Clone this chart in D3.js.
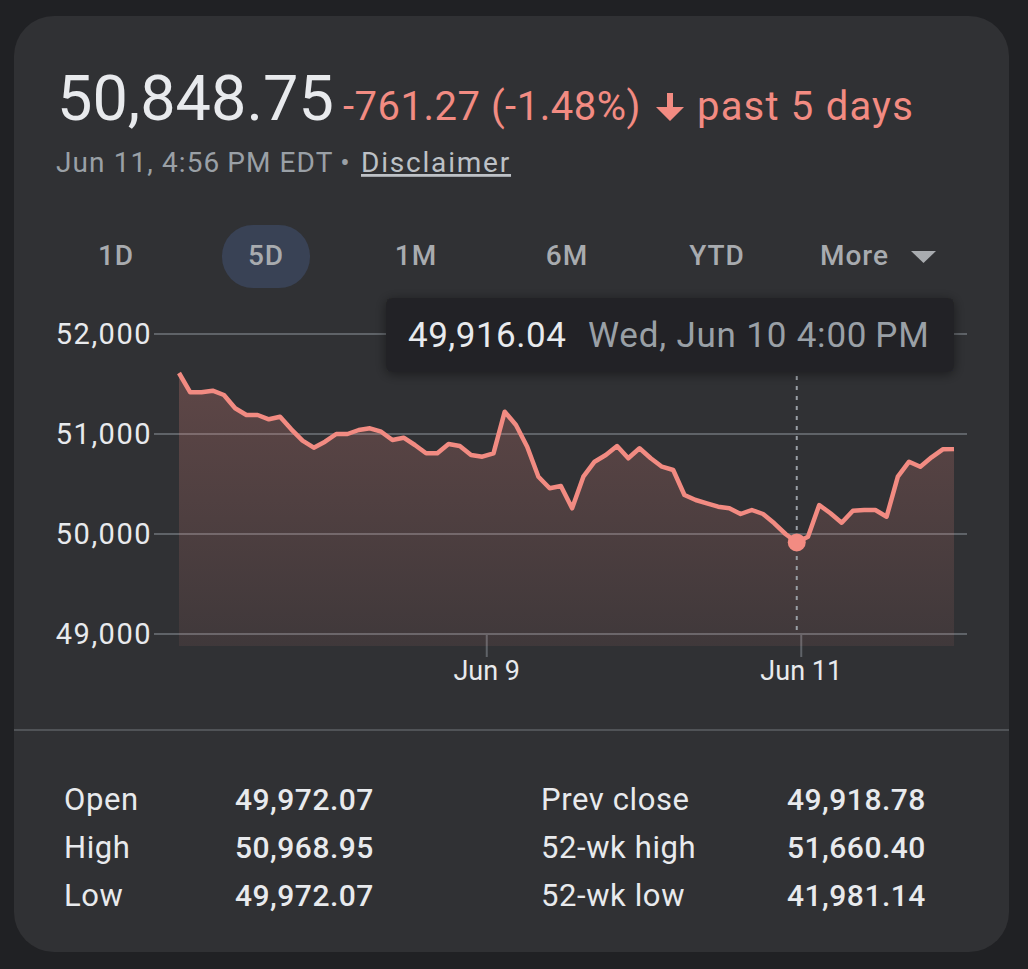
<!DOCTYPE html>
<html>
<head>
<meta charset="utf-8">
<script src="https://cdn.jsdelivr.net/npm/d3@7"></script>
<style>
  html, body { margin: 0; padding: 0; background: #202124; }
  svg { display: block; font-family: Roboto, "Noto Sans", sans-serif; }
</style>
</head>
<body>
<div id="chart"></div>
<script>
(function () {
  // 5 trading days, 14 half-hour points each (index 0..69)
  const prices = [
    51610, 51417, 51417, 51433, 51390, 51257, 51190, 51190, 51147, 51173, 51047, 50933, 50863, 50923,
    51000, 51000, 51040, 51057, 51023, 50940, 50963, 50890, 50807, 50807, 50900, 50880, 50790, 50773,
    50807, 51223, 51090, 50873, 50573, 50457, 50480, 50257, 50573, 50723, 50790, 50880, 50757, 50857,
    50757, 50673, 50640, 50390, 50340, 50307, 50273, 50257, 50200, 50240, 50200, 50107, 50000, 49916.04,
    49972.07, 50290, 50207, 50113, 50233, 50240, 50240, 50173, 50573, 50723, 50673, 50767, 50847, 50848.75
  ];
  const yTicks = [49000, 50000, 51000, 52000];
  const xTickPos = [27.4, 55.4];
  const xTickLabels = ["Jun 9", "Jun 11"];
  const hoverIndex = 55;
  const hoverLabel = "Wed, Jun 10 4:00\u2009PM";
  const ranges = ["1D", "5D", "1M", "6M", "YTD"];
  const statLabels = [["Open", "High", "Low"], ["Prev close", "52-wk high", "52-wk low"]];
  const statValues = [["49,972.07", "50,968.95", "49,972.07"], ["49,918.78", "51,660.40", "41,981.14"]];

  const width = 1028;
  const height = 969;
  const red = "#f28b82";

  const svg = d3.select("#chart")
    .append("svg")
    .attr("width", width)
    .attr("height", height);

  const defs = svg.append("defs");

  // card
  svg.append("rect")
    .attr("x", 14).attr("y", 16)
    .attr("width", 995).attr("height", 936)
    .attr("rx", 40)
    .attr("fill", "#303134");

  // header
  svg.append("text")
    .attr("x", 57).attr("y", 120)
    .text("50,848.75")
    .style("font-size", "63px")
    .style("fill", "#e8eaed");

  svg.append("text")
    .attr("x", 343).attr("y", 120)
    .text("-761.27 (-1.48%)")
    .style("font-size", "40px")
    .style("letter-spacing", "0.5px")
    .style("fill", red);

  svg.append("path")
    .attr("d", "M667,93 h6 v14 h11 l-14,14 l-14,-14 h11 z")
    .attr("fill", red);

  svg.append("text")
    .attr("x", 697).attr("y", 120)
    .text("past 5 days")
    .style("font-size", "40px")
    .style("letter-spacing", "1.2px")
    .style("fill", red);

  svg.append("text")
    .attr("x", 56).attr("y", 172)
    .text("Jun 11, 4:56\u2009PM EDT")
    .style("font-size", "28px")
    .style("letter-spacing", "1.1px")
    .style("fill", "#9aa0a6");
  svg.append("text")
    .attr("x", 345).attr("y", 172)
    .attr("text-anchor", "middle")
    .text("\u2022")
    .style("font-size", "28px")
    .style("fill", "#9aa0a6");
  svg.append("text")
    .attr("x", 361).attr("y", 172)
    .text("Disclaimer")
    .style("font-size", "28px")
    .style("letter-spacing", "1.8px")
    .style("fill", "#bdc1c6")
    .style("text-decoration", "underline");

  // range tabs
  const tabX = [116, 266, 416, 567, 717];
  svg.append("rect")
    .attr("x", 222).attr("y", 225)
    .attr("width", 88).attr("height", 63)
    .attr("rx", 31)
    .attr("fill", "#394255");

  svg.selectAll("text.tab")
    .data(ranges)
    .enter()
    .append("text")
    .attr("class", "tab")
    .attr("x", (d, i) => tabX[i])
    .attr("y", 265)
    .attr("text-anchor", "middle")
    .text(d => d)
    .style("font-size", "28px")
    .style("font-weight", 500)
    .style("letter-spacing", "1px")
    .style("fill", "#a8abaf");

  svg.append("text")
    .attr("x", 820).attr("y", 265)
    .text("More")
    .style("font-size", "28px")
    .style("font-weight", 500)
    .style("letter-spacing", "1px")
    .style("fill", "#a8abaf");
  svg.append("path")
    .attr("d", "M911,251 h25 l-12.5,12 z")
    .attr("fill", "#a8abaf");

  // scales
  const x = d3.scaleLinear().domain([0, prices.length - 1]).range([179, 954]);
  const y = d3.scaleLinear().domain([49000, 52000]).range([634, 334]);
  const plotBottom = 646;

  // grid
  svg.selectAll("line.grid")
    .data(yTicks)
    .enter()
    .append("line")
    .attr("x1", 154).attr("x2", 967)
    .attr("y1", d => y(d)).attr("y2", d => y(d))
    .attr("stroke", "#5f6368")
    .attr("stroke-width", 2);

  svg.selectAll("text.ylab")
    .data(yTicks)
    .enter()
    .append("text")
    .attr("x", 152)
    .attr("y", d => y(d))
    .attr("dy", "0.35em")
    .attr("text-anchor", "end")
    .text(d3.format(","))
    .style("font-size", "29px")
    .style("letter-spacing", "1.5px")
    .style("fill", "#e8eaed");

  // x ticks
  svg.selectAll("line.xtick")
    .data(xTickPos)
    .enter()
    .append("line")
    .attr("x1", d => x(d)).attr("x2", d => x(d))
    .attr("y1", y(49000)).attr("y2", y(49000) + 23)
    .attr("stroke", "#5f6368")
    .attr("stroke-width", 2);

  svg.selectAll("text.xlab")
    .data(xTickPos)
    .enter()
    .append("text")
    .attr("x", d => x(d))
    .attr("y", 680)
    .attr("text-anchor", "middle")
    .text((d, i) => xTickLabels[i])
    .style("font-size", "27px")
    .style("fill", "#e8eaed");

  // area gradient
  const grad = defs.append("linearGradient")
    .attr("id", "fillGrad")
    .attr("gradientUnits", "userSpaceOnUse")
    .attr("x1", 0).attr("x2", 0)
    .attr("y1", y(d3.max(prices))).attr("y2", plotBottom);
  grad.append("stop").attr("offset", 0).attr("stop-color", red).attr("stop-opacity", 0.24);
  grad.append("stop").attr("offset", 1).attr("stop-color", red).attr("stop-opacity", 0.08);

  svg.append("path")
    .datum(prices)
    .attr("fill", "url(#fillGrad)")
    .attr("d", d3.area()
      .x((d, i) => x(i))
      .y0(plotBottom)
      .y1(d => y(d)));

  svg.append("path")
    .datum(prices)
    .attr("fill", "none")
    .attr("stroke", red)
    .attr("stroke-width", 4.5)
    .attr("stroke-linejoin", "round")
    .attr("d", d3.line()
      .x((d, i) => x(i))
      .y(d => y(d)));

  // hover marker
  const hx = x(hoverIndex);
  svg.append("line")
    .attr("x1", hx).attr("x2", hx)
    .attr("y1", 376).attr("y2", y(49000))
    .attr("stroke", "#9aa0a6")
    .attr("stroke-width", 2)
    .attr("stroke-dasharray", "4,6");

  svg.append("circle")
    .attr("cx", hx).attr("cy", y(prices[hoverIndex]))
    .attr("r", 9)
    .attr("fill", red);

  // tooltip
  const shadow = defs.append("filter")
    .attr("id", "shadow")
    .attr("x", "-10%").attr("y", "-40%")
    .attr("width", "120%").attr("height", "180%");
  shadow.append("feDropShadow")
    .attr("dx", 0).attr("dy", 2)
    .attr("stdDeviation", 6)
    .attr("flood-color", "#000")
    .attr("flood-opacity", 0.45);

  svg.append("rect")
    .attr("x", 386).attr("y", 298)
    .attr("width", 568).attr("height", 74)
    .attr("rx", 6)
    .attr("fill", "#222326")
    .attr("filter", "url(#shadow)");

  svg.append("text")
    .attr("x", 408).attr("y", 347)
    .text(d3.format(",.2f")(prices[hoverIndex]))
    .style("font-size", "35px")
    .style("letter-spacing", "0.5px")
    .style("fill", "#e8eaed");
  svg.append("text")
    .attr("x", 588).attr("y", 347)
    .text(hoverLabel)
    .style("font-size", "35px")
    .style("letter-spacing", "0.8px")
    .style("fill", "#9aa0a6");

  // separator
  svg.append("line")
    .attr("x1", 14).attr("x2", 1009)
    .attr("y1", 730).attr("y2", 730)
    .attr("stroke", "#505357")
    .attr("stroke-width", 2);

  // key stats
  const colX = [[64, 235], [541, 787]];
  const rowY = [810, 858, 906];
  statLabels.forEach((col, c) => {
    col.forEach((lab, r) => {
      svg.append("text")
        .attr("x", colX[c][0]).attr("y", rowY[r])
        .text(lab)
        .style("font-size", "31px")
        .style("letter-spacing", "0.6px")
        .style("fill", "#e8eaed");
      svg.append("text")
        .attr("x", colX[c][1]).attr("y", rowY[r])
        .text(statValues[c][r])
        .style("font-size", "30px")
        .style("font-weight", 500)
        .style("letter-spacing", "0.5px")
        .style("fill", "#e8eaed");
    });
  });
})();
</script>
</body>
</html>
